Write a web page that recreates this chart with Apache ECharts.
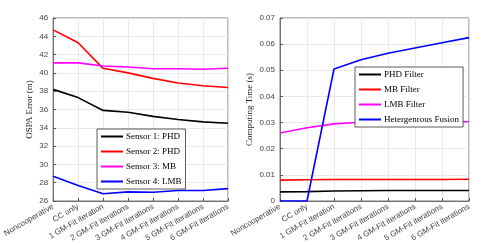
<!DOCTYPE html>
<html><head><meta charset="utf-8">
<script src="https://cdn.jsdelivr.net/npm/echarts@6/dist/echarts.min.js"></script>
<style>html,body{margin:0;padding:0;background:#fff}#c{width:491px;height:245px}</style>
</head><body><div id="c"></div>
<script>
const categories = ["Noncooperative","CC only","1 GM-Fit iteration","2 GM-Fit iterations","3 GM-Fit iterations","4 GM-Fit iterations","5 GM-Fit iterations","6 GM-Fit iterations"];
const ospaNames = ["Sensor 1: PHD","Sensor 2: PHD","Sensor 3: MB","Sensor 4: LMB"];
const ospaS1 = [38.2, 37.3, 35.9, 35.7, 35.25, 34.9, 34.65, 34.5];
const ospaS2 = [44.7, 43.3, 40.5, 40.0, 39.4, 38.9, 38.6, 38.4];
const ospaS3 = [41.1, 41.1, 40.75, 40.65, 40.45, 40.45, 40.4, 40.5];
const ospaS4 = [28.7, 27.7, 26.8, 27.0, 26.95, 27.15, 27.15, 27.35];
const timeNames = ["PHD Filter","MB Filter","LMB Filter","Hetergenrous Fusion"];
const timePHD = [0.0035, 0.0036, 0.0038, 0.0039, 0.0040, 0.0040, 0.0040, 0.0040];
const timeMB = [0.0080, 0.0081, 0.0082, 0.0082, 0.0082, 0.0082, 0.0082, 0.0083];
const timeLMB = [0.0260, 0.0280, 0.0295, 0.0301, 0.0304, 0.0305, 0.0305, 0.0303];
const timeHF = [0.0, 0.0, 0.0505, 0.0540, 0.0565, 0.0585, 0.0605, 0.0625];
const colors = ["#000000","#ff0000","#ff00ff","#0000ff"];

const chart = echarts.init(document.getElementById('c'), null, {renderer:'canvas'});
const tickFont = {fontFamily:'Liberation Sans, Arial, sans-serif', fontSize:8, color:'#444'};
function xAxis(gi){
  return {type:'category', gridIndex:gi, data:categories, boundaryGap:false,
    axisLine:{show:true, lineStyle:{color:'#555', width:0.8}},
    axisTick:{show:true, inside:true, length:3, lineStyle:{color:'#555'}},
    splitLine:{show:true, lineStyle:{color:'#e4e4e4', width:0.8}},
    axisLabel:Object.assign({rotate:30, interval:0, margin:5}, tickFont)};
}
function yAxis(gi, min, max, interval, name, fmt){
  return {type:'value', gridIndex:gi, min:min, max:max, interval:interval,
    name:name, nameLocation:'middle', nameGap:gi===0?19:26,
    nameTextStyle:{fontFamily:'Liberation Serif, Times New Roman, serif', fontSize:9, color:'#222'},
    axisLine:{show:true, lineStyle:{color:'#555', width:0.8}},
    axisTick:{show:true, inside:true, length:3, lineStyle:{color:'#555'}},
    splitLine:{show:true, lineStyle:{color:'#e4e4e4', width:0.8}},
    axisLabel:Object.assign({margin:5, formatter:fmt}, tickFont)};
}
function line(name, data, ci, gi){
  return {type:'line', name:name, data:data, xAxisIndex:gi, yAxisIndex:gi,
    showSymbol:false, symbol:'none', lineStyle:{color:colors[ci], width:1.6},
    itemStyle:{color:colors[ci]}, animation:false};
}
const legendBase = {orient:'vertical', icon:'rect', itemWidth:22, itemHeight:2, itemGap:6,
  backgroundColor:'#fff', borderColor:'#333', borderWidth:0.8, padding:[3,4,3,4],
  textStyle:{fontFamily:'Liberation Serif, Times New Roman, serif', fontSize:9, color:'#000', padding:[0,0,0,-2]}};
chart.setOption({
  animation:false,
  grid:[
    {left:49, top:18, width:179, height:183, show:true, borderColor:'#555', borderWidth:0.8, backgroundColor:'#fff'},
    {left:280, top:18, width:189, height:183, show:true, borderColor:'#555', borderWidth:0.8, backgroundColor:'#fff'}
  ],
  xAxis:[xAxis(0), xAxis(1)],
  yAxis:[
    yAxis(0, 26, 46, 2, 'OSPA Error (m)', v=>String(v)),
    yAxis(1, 0, 0.07, 0.01, 'Computing Time (s)', v=>v===0?'0':v.toFixed(2))
  ],
  legend:[
    Object.assign({}, legendBase, {left:97, top:129, data:ospaNames}),
    Object.assign({}, legendBase, {left:355, top:67, data:timeNames})
  ],
  series:[
    line(ospaNames[0], ospaS1, 0, 0),
    line(ospaNames[1], ospaS2, 1, 0),
    line(ospaNames[2], ospaS3, 2, 0),
    line(ospaNames[3], ospaS4, 3, 0),
    line(timeNames[0], timePHD, 0, 1),
    line(timeNames[1], timeMB, 1, 1),
    line(timeNames[2], timeLMB, 2, 1),
    line(timeNames[3], timeHF, 3, 1)
  ]
});
</script></body></html>
